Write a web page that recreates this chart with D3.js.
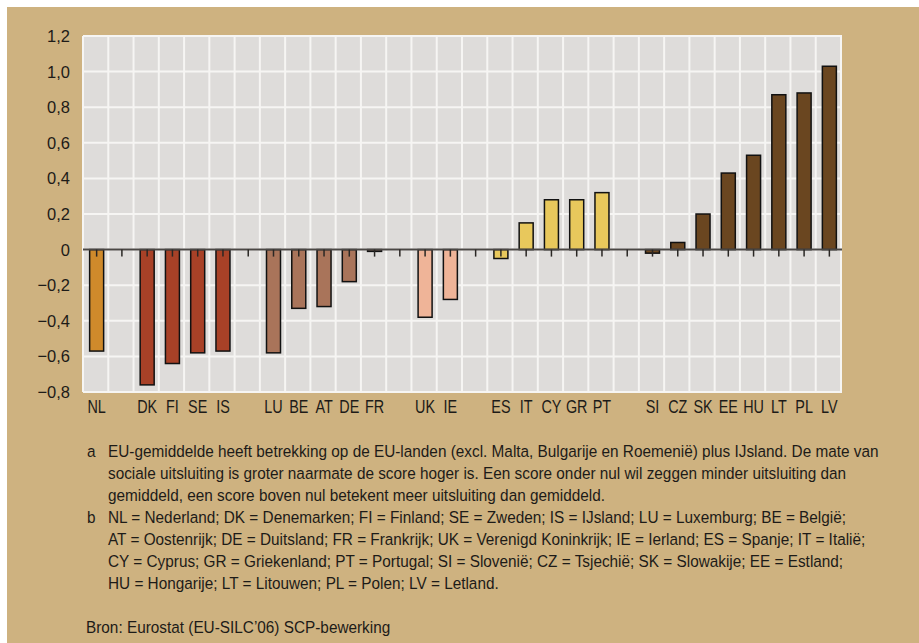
<!DOCTYPE html>
<html>
<head>
<meta charset="utf-8">
<script src="https://cdn.jsdelivr.net/npm/d3@7"></script>
<style>
  body { margin: 0; background: #fff; }
  text { font-family: "Liberation Sans", Arial, sans-serif; fill: #1d1b18; }
</style>
</head>
<body>
<svg id="chart" width="919" height="643"></svg>
<script>
// country codes per slot, "" = empty slot between groups
var categories = ["NL", "", "DK", "FI", "SE", "IS", "", "LU", "BE", "AT", "DE", "FR", "", "UK", "IE", "",
                  "ES", "IT", "CY", "GR", "PT", "", "SI", "CZ", "SK", "EE", "HU", "LT", "PL", "LV"];
var values = [-0.57, null, -0.76, -0.64, -0.58, -0.57, null, -0.58, -0.33, -0.32, -0.18, -0.01, null, -0.38, -0.28, null,
              -0.05, 0.15, 0.28, 0.28, 0.32, null, -0.02, 0.04, 0.20, 0.43, 0.53, 0.87, 0.88, 1.03];
var groups = [0, null, 1, 1, 1, 1, null, 2, 2, 2, 2, 2, null, 3, 3, null,
              4, 4, 4, 4, 4, null, 5, 5, 5, 5, 5, 5, 5, 5];
var groupColors = ["#cf8a2b", "#a84127", "#a9745a", "#efb498", "#e8c85c", "#6a4620"];
var yTicks = [1.2, 1.0, 0.8, 0.6, 0.4, 0.2, 0, -0.2, -0.4, -0.6, -0.8];

var notes = [
  ["a", "EU-gemiddelde heeft betrekking op de EU-landen (excl. Malta, Bulgarije en Roemenië) plus IJsland. De mate van"],
  ["", "sociale uitsluiting is groter naarmate de score hoger is. Een score onder nul wil zeggen minder uitsluiting dan"],
  ["", "gemiddeld, een score boven nul betekent meer uitsluiting dan gemiddeld."],
  ["b", "NL = Nederland; DK = Denemarken; FI = Finland; SE = Zweden; IS = IJsland; LU = Luxemburg; BE = België;"],
  ["", "AT = Oostenrijk; DE = Duitsland; FR = Frankrijk; UK = Verenigd Koninkrijk; IE = Ierland; ES = Spanje; IT = Italië;"],
  ["", "CY = Cyprus; GR = Griekenland; PT = Portugal; SI = Slovenië; CZ = Tsjechië; SK = Slowakije; EE = Estland;"],
  ["", "HU = Hongarije; LT = Litouwen; PL = Polen; LV = Letland."]
];
var source = "Bron: Eurostat (EU-SILC’06) SCP-bewerking";

var svg = d3.select("#chart");
var pLeft = 84, pRight = 842, pTop = 36, pBottom = 392;

// the original uses a condensed face, so squeeze text horizontally
function put(g, x, y, str, anchor, squeeze) {
  return g.append("text")
    .attr("transform", "translate(" + x + "," + y + ") scale(" + squeeze + ",1)")
    .attr("text-anchor", anchor || "start")
    .text(str);
}

svg.append("rect").attr("x", 7).attr("y", 7).attr("width", 912).attr("height", 636).attr("fill", "#ceb280");
svg.append("rect").attr("x", pLeft - 1).attr("y", pTop).attr("width", pRight - pLeft + 1).attr("height", pBottom - pTop)
  .attr("fill", "#dedcda");

var x = d3.scaleBand().domain(d3.range(categories.length)).range([pLeft, pRight]);
var y = d3.scaleLinear().domain([-0.8, 1.2]).range([pBottom, pTop]);
var barW = 14;

// grid
svg.append("g").selectAll("line").data(yTicks).enter().append("line")
  .attr("x1", pLeft - 1).attr("x2", pRight).attr("y1", function(d) { return y(d); }).attr("y2", function(d) { return y(d); })
  .attr("stroke", "#f6f5f3").attr("stroke-width", 2);
svg.append("g").selectAll("line").data(d3.range(categories.length + 1)).enter().append("line")
  .attr("x1", function(i) { return pLeft - 1 + i * x.step(); }).attr("x2", function(i) { return pLeft - 1 + i * x.step(); })
  .attr("y1", pTop).attr("y2", pBottom)
  .attr("stroke", "#f6f5f3").attr("stroke-width", 2);

// bars
var idx = d3.range(categories.length).filter(function(i) { return values[i] !== null; });
svg.append("g").selectAll("rect").data(idx).enter().append("rect")
  .attr("x", function(i) { return x(i) + (x.bandwidth() - barW) / 2; })
  .attr("width", barW)
  .attr("y", function(i) { return y(Math.max(0, values[i])); })
  .attr("height", function(i) { return Math.abs(y(values[i]) - y(0)); })
  .attr("fill", function(i) { return groupColors[groups[i]]; })
  .attr("stroke", "#111").attr("stroke-width", 1.5);

// zero line and ticks
svg.append("line").attr("x1", pLeft - 1).attr("x2", pRight).attr("y1", y(0)).attr("y2", y(0))
  .attr("stroke", "#4a4744").attr("stroke-width", 2);
svg.append("g").selectAll("line").data(d3.range(categories.length)).enter().append("line")
  .attr("x1", function(i) { return x(i) + x.bandwidth() / 2; }).attr("x2", function(i) { return x(i) + x.bandwidth() / 2; })
  .attr("y1", y(0)).attr("y2", y(0) + 7)
  .attr("stroke", "#2a2724").attr("stroke-width", 1.5);

// y labels
var fmt = function(d) {
  if (d === 0) return "0";
  return (d < 0 ? "\u2212" : "") + d3.format(".1f")(Math.abs(d)).replace(".", ",");
};
var yl = svg.append("g").attr("font-size", 17);
yTicks.forEach(function(d) { put(yl, 70, y(d) + 6, fmt(d), "end", 0.97); });

// x labels
var xl = svg.append("g").attr("font-size", 18);
d3.range(categories.length).forEach(function(i) {
  put(xl, x(i) + x.bandwidth() / 2, 413, categories[i], "middle", 0.8);
});

// notes
var ng = svg.append("g").attr("font-size", 16.5);
notes.forEach(function(n, k) {
  put(ng, 87, 457 + k * 22, n[0], "start", 0.93);
  put(ng, 108, 457 + k * 22, n[1], "start", 0.93);
});
put(ng, 86, 633, source, "start", 0.93);
</script>
</body>
</html>
